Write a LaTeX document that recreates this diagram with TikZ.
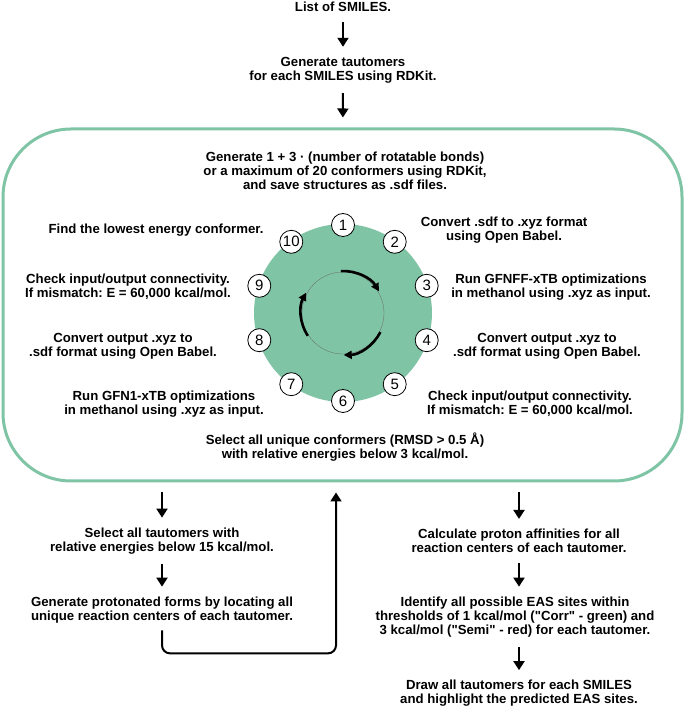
\documentclass[tikz,border=0pt]{standalone}
\usepackage{fontspec}
\setmainfont{Liberation Sans}
\usetikzlibrary{calc, positioning, arrows.meta}
\definecolor{cyclegreen}{RGB}{128,196,166}
\frenchspacing

\begin{document}
\begin{tikzpicture}[x=1pt, y=1pt,
    txt/.style={align=center, inner sep=0pt, font=\fontsize{13.2}{14}\selectfont\bfseries},
    flow/.style={-{Triangle[length=9pt,width=11pt]}, line width=2pt, shorten <=10pt, shorten >=10pt},
    turn/.style={-{Triangle[length=8pt,width=8pt]}, line width=2.6pt},
    num/.style={circle, draw, fill=white, line width=0.8pt, minimum size=23pt, inner sep=0pt, font=\fontsize{15}{15}\selectfont}]
\useasboundingbox (0,0) rectangle (685,707);

% top of the workflow
\node[txt] (smiles) at (343,700) {List of SMILES.};
\node[txt] (taut) at (343,637) {Generate tautomers\\for each SMILES using RDKit.};
\draw[flow] (smiles) -- (taut);

% conformer loop
\node[draw=cyclegreen, line width=3pt, rounded corners=68pt, minimum width=679pt, minimum height=352pt] (box) at (342.5,402) {};
\draw[flow] (taut) -- (box);
\node[txt] (gen) at (345,536) {Generate 1 + 3 · (number of rotatable bonds)\\or a maximum of 20 conformers using RDKit,\\and save structures as .sdf files.};
\node[circle, fill=cyclegreen, minimum size=178pt, inner sep=0pt] (disk) at (343,394) {};
\node[circle, draw=black!60, line width=0.3pt, minimum size=82pt, inner sep=0pt] (ring) at (disk.center) {};
\foreach \a in {93,-27,213}
    \draw[turn] ($(ring.center)+(\a:42)$) arc[start angle=\a, end angle=\a-62, radius=42];
\foreach \i in {1,...,10}
    \node[num] (n\i) at ($(disk.center)+({90-36*(\i-1)}:88)$) {\i};

\node[txt] (lowest) at (156,477) {Find the lowest energy conformer.};
\node[txt] (toxyz) at (504,477) {Convert .sdf to .xyz format\\using Open Babel.};
\node[txt] (checkb) at (128,420) {Check input/output connectivity.\\If mismatch: E = 60,000 kcal/mol.};
\node[txt] (gfnff) at (551,420) {Run GFNFF-xTB optimizations\\in methanol using .xyz as input.};
\node[txt] (tosdfb) at (123,361) {Convert output .xyz to\\.sdf format using Open Babel.};
\node[txt] (tosdfa) at (547,361) {Convert output .xyz to\\.sdf format using Open Babel.};
\node[txt] (gfn1) at (164,303) {Run GFN1-xTB optimizations\\in methanol using .xyz as input.};
\node[txt] (checka) at (530,303) {Check input/output connectivity.\\If mismatch: E = 60,000 kcal/mol.};
\node[txt] (unique) at (345,260) {Select all unique conformers (RMSD > 0.5 Å)\\with relative energies below 3 kcal/mol.};

% left branch
\node[txt] (seltaut) at (162,166) {Select all tautomers with\\relative energies below 15 kcal/mol.};
\node[txt] (proton) at (162,97) {Generate protonated forms by locating all\\unique reaction centers of each tautomer.};
\draw[flow] (seltaut.north |- box.south) -- (seltaut);
\draw[flow] (seltaut) -- (proton);
\draw[flow, shorten <=7pt, shorten >=10pt, rounded corners=8pt] (proton.south) -- ++(0,-30) -| ($(box.south)+(-6.5,0)$);

% right branch
\node[txt] (affin) at (519,166) {Calculate proton affinities for all\\reaction centers of each tautomer.};
\node[txt] (eas) at (515,90) {Identify all possible EAS sites within\\thresholds of 1 kcal/mol (\textquotedbl Corr\textquotedbl\ - green) and\\3 kcal/mol (\textquotedbl Semi\textquotedbl\ - red) for each tautomer.};
\node[txt] (drawall) at (519,13.5) {Draw all tautomers for each SMILES\\and highlight the predicted EAS sites.};
\draw[flow] (affin.north |- box.south) -- (affin);
\draw[flow] (affin) -- (affin.south |- eas.north);
\draw[flow] (drawall.north |- eas.south) -- (drawall);
\end{tikzpicture}
\end{document}
